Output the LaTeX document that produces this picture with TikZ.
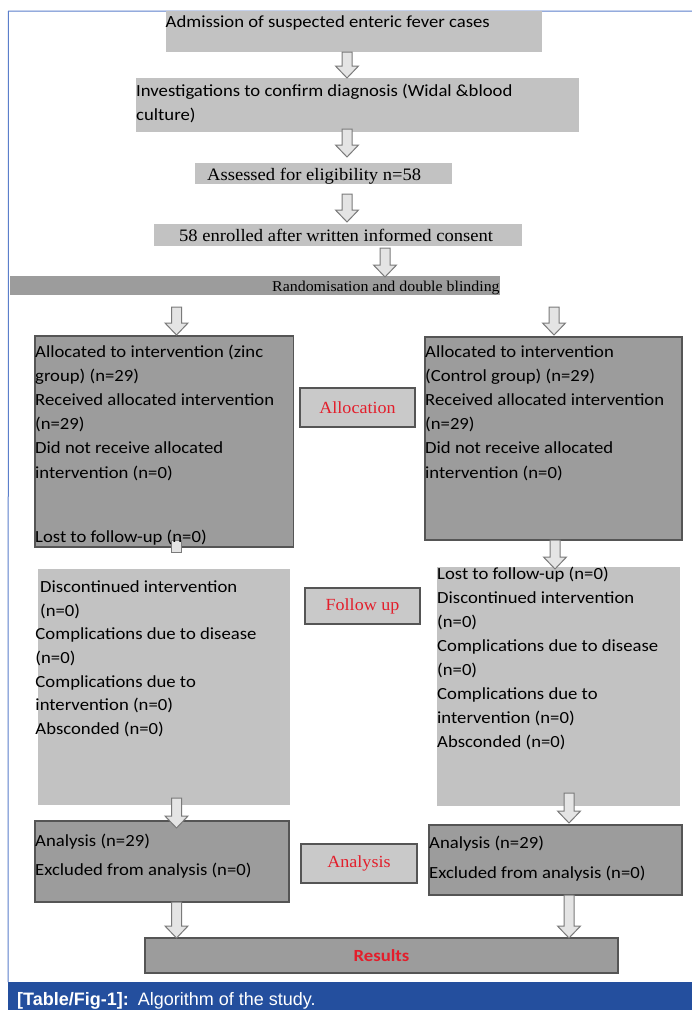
\documentclass[tikz,border=0pt]{standalone}
\usepackage{fontspec}
\usetikzlibrary{calc}
\newfontfamily\calib{Carlito}[FakeStretch=1.1]
\newfontfamily\tms{Liberation Serif}[FakeStretch=1.06]
\newfontfamily\arl{Liberation Sans}
\definecolor{lgray}{HTML}{C2C2C2}
\definecolor{dgray}{HTML}{9C9C9C}
\definecolor{rgray}{HTML}{9C9C9C}
\definecolor{labgray}{HTML}{C9C9C9}
\definecolor{bordgray}{HTML}{555555}
\definecolor{arrfill}{HTML}{E4E4E4}
\definecolor{arrline}{HTML}{7A7A7A}
\definecolor{framecol}{HTML}{5B7FCB}
\definecolor{capblue}{HTML}{244F9E}
\definecolor{redtxt}{HTML}{E31E2B}
\newcommand\barrow[2]{\draw[arr] let \p1=(#1), \p2=(#2) in
  (\x1-5pt,\y1) -- (\x1+5pt,\y1) -- (\x1+5pt,\y2+12pt) -- (\x1+11.5pt,\y2+12pt)
  -- (\x1,\y2) -- (\x1-11.5pt,\y2+12pt) -- (\x1-5pt,\y2+12pt) -- cycle;}
\begin{document}
\begin{tikzpicture}[x=1pt,y=-1pt,
  basebox/.style={rectangle, inner sep=0pt, outer sep=0pt, anchor=north west},
  lbox/.style={basebox, fill=lgray},
  dbox/.style={basebox, fill=dgray, draw=bordgray, line width=1.2pt},
  labbox/.style={basebox, fill=labgray, draw=bordgray, line width=1.1pt,
     text=redtxt, font=\tms\fontsize{17}{20}\selectfont},
  arr/.style={fill=arrfill, draw=arrline, line width=1pt},
  ctxt/.style={inner sep=0pt, anchor=base west, align=left, font=\calib\fontsize{17}{24}\selectfont},
  ttxt/.style={inner sep=0pt, anchor=base west, font=\tms\fontsize{17.5}{20}\selectfont}]
\useasboundingbox (0,0) rectangle (692,1010);
\fill[white] (0,0) rectangle (692,1010);
% frame and caption bar
\node[basebox, fill=capblue, minimum width=684pt, minimum height=28pt] (bar) at (8,982) {};
\draw[framecol, line width=1pt] (bar.north west) -- (8.5,11) -- (692,11);
\node[inner sep=0pt, anchor=base west, text=white, font=\arl\fontsize{18}{20}\selectfont] (cap) at (17,1005) {\textbf{[Table/Fig-1]:}\hspace{9pt}Algorithm of the study.};
% boxes
\node[lbox, minimum width=376.5pt, minimum height=41pt] (adm) at (165.5,11) {};
\node[lbox, minimum width=442.5pt, minimum height=54pt] (inv) at (136,78) {};
\node[lbox, minimum width=257pt, minimum height=21pt] (ass) at (195,163) {};
\node[lbox, minimum width=368pt, minimum height=22pt] (enr) at (154,224) {};
\node[basebox, fill=rgray, minimum width=490pt, minimum height=19pt] (rnd) at (10,276) {};
\node[dbox, minimum width=258.5pt, minimum height=211pt] (alL) at (35,336) {};
\node[dbox, minimum width=257pt, minimum height=203pt] (alR) at (425,337) {};
\node[labbox, minimum width=115pt, minimum height=39pt] (alab) at (300,388) {Allocation};
\node[lbox, minimum width=252.5pt, minimum height=236pt] (fuL) at (37.5,569) {};
\node[lbox, minimum width=243pt, minimum height=239pt] (fuR) at (437,567) {};
\node[labbox, minimum width=115pt, minimum height=36pt] (flab) at (305,588) {Follow up};
\node[dbox, minimum width=254pt, minimum height=81pt] (anL) at (35,821) {};
\node[dbox, minimum width=253pt, minimum height=70pt] (anR) at (429,825) {};
\node[labbox, minimum width=116pt, minimum height=39pt] (anlab) at (301,844) {Analysis};
\node[dbox, minimum width=473pt, minimum height=35pt, text=redtxt, font=\calib\bfseries\fontsize{17}{20}\selectfont] (res) at (145,938) {Results};
% arrows
\barrow{[xshift=-6.75pt]adm.south}{inv.north}
\barrow{[xshift=-10.25pt,yshift=3pt]inv.south}{[yshift=6pt]ass.north}
\barrow{[xshift=23.5pt,yshift=-10pt]ass.south}{[yshift=2pt]enr.north}
\barrow{[xshift=47pt,yshift=-2pt]enr.south}{[yshift=-1pt]rnd.north}
\barrow{[xshift=-78.5pt,yshift=-12pt]rnd.south}{[yshift=1pt]alL.north}
\barrow{[xshift=299pt,yshift=-12pt]rnd.south}{[yshift=2pt]alR.north}
\draw[arr] ([xshift=7.25pt,yshift=7pt]alL.south) rectangle ([xshift=17.25pt,yshift=-5pt]alL.south);
\barrow{[xshift=1.5pt]alR.south}{[yshift=-2pt]fuR.north}
\barrow{[xshift=12.75pt,yshift=7pt]fuL.south}{[yshift=-7pt]anL.north}
\barrow{[xshift=10.5pt,yshift=13pt]fuR.south}{[yshift=2pt]anR.north}
\barrow{[xshift=14.5pt]anL.south}{res.north}
\barrow{[xshift=13.5pt]anR.south}{res.north}
% texts (multi-line nodes: base anchor = last line's baseline)
\node[ctxt] (tadm) at (165.5,27.3) {Admission of suspected enteric fever cases};
\node[ctxt, font=\calib\fontsize{17}{23.3}\selectfont] (tinv) at (136,120) {Investigations to confirm diagnosis (Widal \&blood\\culture)};
\node[ttxt] (tass) at (207,180) {Assessed for eligibility n=58};
\node[ttxt] (tenr) at (179,241.7) {58 enrolled after written informed consent};
\node[ttxt, font=\tms\fontsize{15}{18}\selectfont] (trnd) at (272,291.7) {Randomisation and double blinding};
\node[ctxt, font=\calib\fontsize{17}{24.2}\selectfont] (talL) at (35,478) {Allocated to intervention (zinc\\group) (n=29)\\Received allocated intervention\\(n=29)\\Did not receive allocated\\intervention (n=0)};
\node[ctxt] (tlost) at (35,542) {Lost to follow-up (n=0)};
\node[ctxt, font=\calib\fontsize{17}{24.2}\selectfont] (talR) at (425,478) {Allocated to intervention\\(Control group) (n=29)\\Received allocated intervention\\(n=29)\\Did not receive allocated\\intervention (n=0)};
\node[ctxt, font=\calib\fontsize{17}{23.6}\selectfont] (tfuL) at (35.3,734.3) {\hspace*{4.7pt}Discontinued intervention\\\hspace*{4.7pt}(n=0)\\Complications due to disease\\(n=0)\\Complications due to\\intervention (n=0)\\Absconded (n=0)};
\node[ctxt, font=\calib\fontsize{17}{24.1}\selectfont] (tfuR) at (437,747.7) {Lost to follow-up (n=0)\\Discontinued intervention\\(n=0)\\Complications due to disease\\(n=0)\\Complications due to\\intervention (n=0)\\Absconded (n=0)};
\node[ctxt, font=\calib\fontsize{17}{28.3}\selectfont] (tanL) at (35,875) {Analysis (n=29)\\Excluded from analysis (n=0)};
\node[ctxt, font=\calib\fontsize{17}{30}\selectfont] (tanR) at (429,878) {Analysis (n=29)\\Excluded from analysis (n=0)};
\end{tikzpicture}
\end{document}
